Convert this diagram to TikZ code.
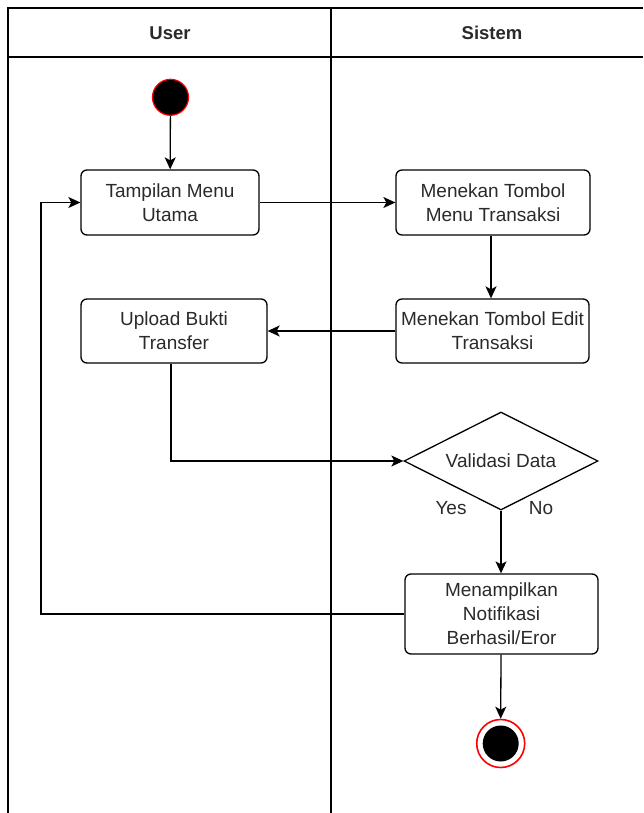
\documentclass[tikz,border=0pt]{standalone}
\usepackage{fontspec}
\setmainfont{Liberation Sans}
\usetikzlibrary{arrows.meta,shapes.geometric,positioning}

\definecolor{txt}{HTML}{2A2A2A}
\definecolor{ured}{HTML}{FF0000}

\tikzset{
  lane/.style={line width=1.6pt, draw=black},
  actbox/.style={draw=black, line width=1.3pt, rounded corners=6pt, fill=white,
    align=center, text=txt, inner sep=0pt, font=\fontsize{19}{24}\selectfont},
  decbox/.style={draw=black, line width=1.3pt, diamond, aspect=1.98, inner sep=0pt,
    text=txt, font=\fontsize{19}{24}\selectfont},
  lbl/.style={text=txt, inner sep=0pt, font=\fontsize{19}{24}\selectfont},
  hdr/.style={text=txt, inner sep=0pt, font=\bfseries\fontsize{18.5}{24}\selectfont},
  flow/.style={line width=1.3pt, draw=black, -{Stealth[length=12pt,width=11pt,inset=3pt]}},
}

\begin{document}
\begin{tikzpicture}[x=1pt,y=-1pt]
\useasboundingbox (0,0) rectangle (643,813);
\fill[white] (0,0) rectangle (643,813);

% swimlane frame
\draw[lane] (8,813) -- (8,8) -- (643,8);
\draw[lane] (8,57) -- (643,57);
\draw[lane] (331,8) -- (331,813);
\node[hdr] (hUser) at (170,33) {User};
\node[hdr] (hSis) at (492,33) {Sistem};

% initial and final states
\node[circle, fill=black, draw=ured, line width=1.2pt, minimum size=36pt, inner sep=0pt] (start) at (170.5,97.3) {};
\node[circle, draw=ured, line width=1.6pt, minimum size=48pt, inner sep=0pt] (endring) at (500.7,743.5) {};
\node[circle, fill=black, minimum size=36pt, inner sep=0pt] (end) at (500.7,743.5) {};

% activities
\node[actbox, minimum width=178pt, minimum height=65pt] (tamp) at (170,202.5) {Tampilan Menu\\Utama};
\node[actbox, minimum width=194pt, minimum height=65pt] (menu) at (493,202.5) {Menekan Tombol\\Menu Transaksi};
\node[actbox, minimum width=193pt, minimum height=64pt] (edit) at (492.5,331) {Menekan Tombol Edit\\Transaksi};
\node[actbox, minimum width=186pt, minimum height=64pt] (upl) at (174,331) {Upload Bukti\\Transfer};
\node[decbox, minimum width=194pt, minimum height=98pt] (valid) at (501,461) {Validasi Data};
\node[actbox, minimum width=193pt, minimum height=80pt] (notif) at (501.5,614) {Menampilkan\\Notifikasi\\Berhasil/Eror};

\node[lbl] (yes) at (451,508) {Yes};
\node[lbl] (no) at (541,508) {No};

\coordinate (loop) at (41,614);

% control flow
\draw[flow] (start) -- (tamp);
\draw[flow] (tamp.east) -- (menu.west);
\draw[flow] (menu.south -| 491,0) -- (edit.north -| 491,0);
\draw[flow] (edit.west) -- (upl.east);
\draw[flow] (upl.south -| 171,0) |- (valid.west);
\draw[flow] (valid.south) -- (notif.north -| valid.south);
\draw[flow] (notif.west) -- (loop) |- (tamp.west);
\draw[flow] (notif.south -| valid.south) -- (endring.north);
\end{tikzpicture}
\end{document}
